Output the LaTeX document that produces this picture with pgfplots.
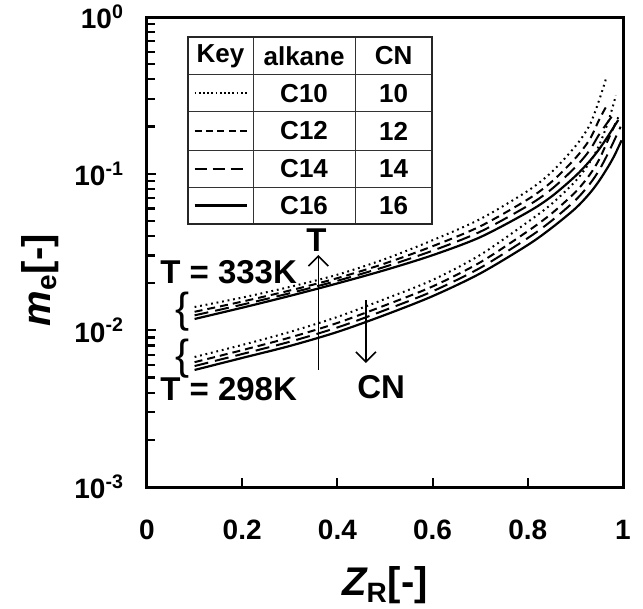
\documentclass[border=0pt]{standalone}
\usepackage{pgfplots}
\pgfplotsset{compat=1.18}
\usepackage{fontspec}
\setmainfont{Liberation Sans}
\usetikzlibrary{arrows.meta}
\begin{document}
\begin{tikzpicture}
\begin{axis}[
  scale only axis, width=238pt, height=235pt,
  xmin=0, xmax=1, ymin=1e-3, ymax=1, ymode=log,
  xtick={0,0.2,0.4,0.6,0.8,1}, xticklabels={0,0.2,0.4,0.6,0.8,1},
  ytick={1e-3,1e-2,1e-1,1},
  yticklabels={10\textsuperscript{-3},10\textsuperscript{-2},10\textsuperscript{-1},10\textsuperscript{0}},
  axis line style={line width=1.5pt},
  tick style={line width=1.1pt, black},
  major tick length=4.5pt, minor tick length=4pt,
  tick align=inside, xtick pos=bottom, ytick pos=left,
  ticklabel style={font=\fontsize{14}{17}\selectfont\bfseries},
  xticklabel style={yshift=-13pt},
  yticklabel style={xshift=-8pt},
  xlabel={\fontsize{20}{24}\selectfont\bfseries\itshape Z\textsubscript{\upshape R}\upshape[-]},
  ylabel={\fontsize{20}{24}\selectfont\bfseries\itshape m\textsubscript{\upshape e}\upshape[-]},
  xlabel style={at={(axis description cs:0.5,-0.155)}, anchor=north},
  ylabel style={at={(axis description cs:-0.225,0.44)}, anchor=center},
  clip=false,
]
% T = 333K group
\addplot[black, line width=1pt, smooth, dash pattern={on 0.9pt off 1.9pt}] coordinates {
(0.1,0.01410)(0.2,0.01619)(0.3,0.01894)(0.4,0.02266)(0.5,0.02853)(0.6,0.03761)(0.7,0.05132)(0.8,0.07769)(0.85,0.1024)(0.9,0.1497)(0.93,0.2043)(0.95,0.2953)(0.964,0.4012)};
\addplot[black, line width=1pt, smooth, dash pattern={on 4pt off 2.5pt}] coordinates {
(0.1,0.01314)(0.2,0.01526)(0.3,0.01796)(0.4,0.02154)(0.5,0.02673)(0.6,0.03444)(0.7,0.04614)(0.8,0.06856)(0.85,0.08873)(0.9,0.1256)(0.93,0.1654)(0.95,0.2213)(0.965,0.2692)};
\addplot[black, line width=1pt, smooth, dash pattern={on 7pt off 3.5pt}] coordinates {
(0.1,0.01247)(0.2,0.01459)(0.3,0.01726)(0.4,0.02072)(0.5,0.02546)(0.6,0.03224)(0.7,0.04260)(0.8,0.06244)(0.85,0.07969)(0.9,0.1101)(0.93,0.1411)(0.95,0.1782)(0.98,0.2399)};
\addplot[black, line width=1.1pt, smooth] coordinates {
(0.1,0.01182)(0.2,0.01395)(0.3,0.01659)(0.4,0.01994)(0.5,0.02425)(0.6,0.03018)(0.7,0.03933)(0.8,0.05685)(0.85,0.07156)(0.9,0.09654)(0.93,0.1204)(0.95,0.1435)(0.97,0.1765)(0.99,0.2201)};
% T = 298K group
\addplot[black, line width=1pt, smooth, dash pattern={on 0.9pt off 1.9pt}] coordinates {
(0.1,0.006764)(0.2,0.008069)(0.3,0.009768)(0.4,0.01218)(0.5,0.01586)(0.6,0.02097)(0.7,0.03029)(0.8,0.04918)(0.85,0.06410)(0.9,0.08950)(0.93,0.1180)(0.95,0.1520)(0.97,0.2197)(0.985,0.3157)};
\addplot[black, line width=1pt, smooth, dash pattern={on 4pt off 2.5pt}] coordinates {
(0.1,0.006266)(0.2,0.007476)(0.3,0.008995)(0.4,0.01115)(0.5,0.01444)(0.6,0.01907)(0.7,0.02716)(0.8,0.04296)(0.85,0.05565)(0.9,0.07630)(0.93,0.09838)(0.95,0.1233)(0.97,0.1680)(0.99,0.2291)};
\addplot[black, line width=1pt, smooth, dash pattern={on 7pt off 3.5pt}] coordinates {
(0.1,0.005919)(0.2,0.007061)(0.3,0.008458)(0.4,0.01043)(0.5,0.01346)(0.6,0.01775)(0.7,0.02504)(0.8,0.03882)(0.85,0.05006)(0.9,0.06769)(0.93,0.08584)(0.95,0.1054)(0.97,0.1374)(0.995,0.1995)};
\addplot[black, line width=1.1pt, smooth] coordinates {
(0.1,0.005587)(0.2,0.006667)(0.3,0.007951)(0.4,0.009768)(0.5,0.01254)(0.6,0.01653)(0.7,0.02308)(0.8,0.03508)(0.85,0.04503)(0.9,0.0600)(0.93,0.0749)(0.95,0.0901)(0.97,0.1123)(0.983,0.1324)(0.997,0.1633)};

% annotations
\node[anchor=west, font=\fontsize{16.5}{18}\selectfont\bfseries, inner sep=0pt] at (axis cs:0.027,0.0236) {T = 333K};
\node[anchor=west, font=\fontsize{16.5}{18}\selectfont\bfseries, inner sep=0pt] at (axis cs:0.027,0.00420) {T = 298K};
\node[font=\fontsize{16.5}{18}\selectfont\bfseries, inner sep=0pt] at (axis cs:0.492,0.00435) {CN};
\node[font=\fontsize{16.5}{18}\selectfont\bfseries, inner sep=0pt] at (axis cs:0.356,0.0375) {T};
\draw[line width=0.8pt, -{Straight Barb[length=5pt,width=10pt]}] (axis cs:0.36,0.005587) -- (axis cs:0.36,0.03029);
\draw[line width=0.8pt, -{Straight Barb[length=5pt,width=10pt]}] (axis cs:0.46,0.01563) -- (axis cs:0.46,0.00619);
\node[font=\fontsize{21}{21}\selectfont, inner sep=0pt] at (axis cs:0.075,0.0131) {\{};
\node[font=\fontsize{21}{21}\selectfont, inner sep=0pt] at (axis cs:0.075,0.00660) {\{};

% key table
\fill[white] (rel axis cs:0.086,0.957) rectangle (rel axis cs:0.599,0.560);
\draw[line width=0.5pt, black!80] (rel axis cs:0.086,0.877) -- (rel axis cs:0.599,0.877);
\draw[line width=0.5pt, black!80] (rel axis cs:0.086,0.798) -- (rel axis cs:0.599,0.798);
\draw[line width=0.5pt, black!80] (rel axis cs:0.086,0.717) -- (rel axis cs:0.599,0.717);
\draw[line width=0.5pt, black!80] (rel axis cs:0.086,0.638) -- (rel axis cs:0.599,0.638);
\draw[line width=0.5pt, black!80] (rel axis cs:0.223,0.957) -- (rel axis cs:0.223,0.560);
\draw[line width=0.5pt, black!80] (rel axis cs:0.437,0.957) -- (rel axis cs:0.437,0.560);
\draw[line width=1pt, black!85] (rel axis cs:0.086,0.957) rectangle (rel axis cs:0.599,0.560);
\begin{scope}[every node/.style={font=\fontsize{13}{15}\selectfont\bfseries, inner sep=0pt}]
\node at (rel axis cs:0.1545,0.917) {Key};
\node at (rel axis cs:0.330,0.917) {alkane};
\node at (rel axis cs:0.518,0.917) {CN};
\node at (rel axis cs:0.330,0.8375) {C10};
\node at (rel axis cs:0.518,0.8375) {10};
\node at (rel axis cs:0.330,0.7575) {C12};
\node at (rel axis cs:0.518,0.7575) {12};
\node at (rel axis cs:0.330,0.6775) {C14};
\node at (rel axis cs:0.518,0.6775) {14};
\node at (rel axis cs:0.330,0.599) {C16};
\node at (rel axis cs:0.518,0.599) {16};
\end{scope}
\draw[line width=1pt, dash pattern={on 0.9pt off 1.2pt}] (rel axis cs:0.10,0.8375) -- (rel axis cs:0.21,0.8375);
\draw[line width=1pt, dash pattern={on 3.5pt off 2.2pt}] (rel axis cs:0.10,0.7575) -- (rel axis cs:0.21,0.7575);
\draw[line width=1pt, dash pattern={on 6pt off 3pt}] (rel axis cs:0.10,0.6775) -- (rel axis cs:0.21,0.6775);
\draw[line width=1.1pt] (rel axis cs:0.10,0.599) -- (rel axis cs:0.21,0.599);
\end{axis}
\pgfresetboundingbox
\path ([shift={(-73.5pt,-60.5pt)}]current axis.south west) rectangle ([shift={(10pt,8.5pt)}]current axis.north east);
\end{tikzpicture}
\end{document}
